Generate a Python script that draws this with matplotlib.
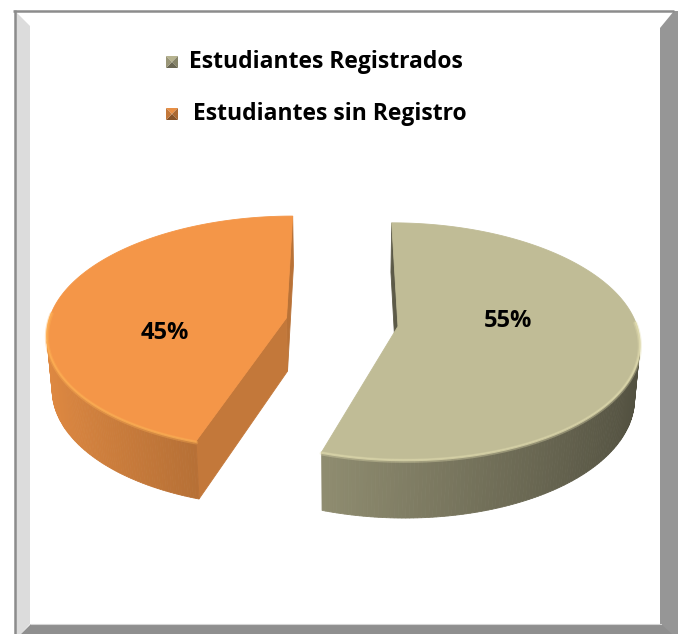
import numpy as np
import matplotlib.pyplot as plt
from matplotlib.patches import Polygon

## Data ##
categories = ["Estudiantes Registrados", "Estudiantes sin Registro"]
shares = [55, 45]
pct_labels = ["55%", "45%"]
top_colors = ["#C0BC96", "#F49648"]

## 3D view (pixel space) ##
phi = np.radians(29)
D = 7.0
F = 1666.
cx0, cy0 = 342., 322.
h = 0.262
explode = 0.237
cam = np.array([0., -D * np.cos(phi), D * np.sin(phi)])


def proj(X, Y, Z):
	depth = D + Y * np.cos(phi) - Z * np.sin(phi)
	sx = cx0 + F * X / depth
	sy = cy0 - F * (Y * np.sin(phi) + Z * np.cos(phi)) / depth
	return sx, sy


def shade(color, f):
	c = np.array(plt.matplotlib.colors.to_rgb(color))
	return tuple(np.clip(c * f, 0, 1))


fig = plt.figure(figsize=(6.8, 6.34), dpi=100)
ax = fig.add_axes([0, 0, 1, 1])
ax.set_xlim(0, 680)
ax.set_ylim(634, 0)
ax.axis("off")

## Frame ##
ax.add_patch(Polygon([(16, 12), (30, 26), (30, 624), (21, 634), (16, 634)], closed=True, fc="#dcdcdc", ec="none"))
ax.add_patch(Polygon([(660, 28), (674, 11), (678, 11), (678, 634), (660, 634)], closed=True, fc="#969696", ec="none"))
ax.add_patch(Polygon([(21, 634), (31, 624), (661, 624), (672, 634)], closed=True, fc="#8f8f8f", ec="none"))
ax.plot([31, 661], [623.5, 623.5], color="#d4d4d4", lw=0.8)
ax.plot([13, 674], [10.5, 10.5], color="#8c8c8c", lw=1.8, solid_capstyle="butt")
ax.plot([14.5, 14.5], [10, 634], color="#8c8c8c", lw=1.8, solid_capstyle="butt")

## Pie slices ##
label_nudge = [(-10, -14), (-6, 24)]
start = 90.
for i, (s, col) in enumerate(zip(shares, top_colors)):
	sweep = 360. * s / sum(shares)
	t0, t1 = np.radians(start), np.radians(start - sweep)
	start -= sweep
	b = 0.5 * (t0 + t1)
	ax0, ay0 = explode * np.cos(b), explode * np.sin(b)
	th = np.linspace(t0, t1, 240)
	X = ax0 + np.cos(th)
	Y = ay0 + np.sin(th)

	faces = []
	# outer wall, one quad per segment
	for k in range(len(th) - 1):
		tm = 0.5 * (th[k] + th[k + 1])
		n = np.array([np.cos(tm), np.sin(tm), 0.])
		P = np.array([ax0 + np.cos(tm), ay0 + np.sin(tm), 0.])
		if n @ (cam - P) <= 0:
			continue
		xs = [X[k], X[k + 1], X[k + 1], X[k]]
		ys = [Y[k], Y[k + 1], Y[k + 1], Y[k]]
		zs = [0, 0, -h, -h]
		sx, sy = proj(np.array(xs), np.array(ys), np.array(zs))
		f = 0.67 - 0.25 * np.cos(tm)
		faces.append((P[1], list(zip(sx, sy)), shade(col, f)))
	# radial cut faces
	for t, nt, f in [(t0, t0 + np.pi / 2, 0.48 if i == 0 else 0.8), (t1, t1 - np.pi / 2, 0.76)]:
		n = np.array([np.cos(nt), np.sin(nt), 0.])
		P = np.array([ax0 + 0.5 * np.cos(t), ay0 + 0.5 * np.sin(t), 0.])
		if n @ (cam - P) <= 0:
			continue
		xs = np.array([ax0, ax0 + np.cos(t), ax0 + np.cos(t), ax0])
		ys = np.array([ay0, ay0 + np.sin(t), ay0 + np.sin(t), ay0])
		zs = np.array([0, 0, -h, -h])
		sx, sy = proj(xs, ys, zs)
		faces.append((P[1], list(zip(sx, sy)), shade(col, f)))

	for _, pts, c in sorted(faces, key=lambda q: -q[0]):
		ax.add_patch(Polygon(pts, closed=True, fc=c, ec=c, lw=0.6))

	# top face
	sx, sy = proj(np.r_[ax0, X], np.r_[ay0, Y], np.zeros(len(X) + 1))
	ax.add_patch(Polygon(list(zip(sx, sy)), closed=True, fc=col, ec=col, lw=0.6))

	# soft rim highlight on the near edge
	vis = np.sin(th) < 0.05
	for z, lw, a in [(-0.006, 3.0, 0.35), (-0.004, 1.3, 0.7)]:
		rx, ry = proj(X[vis], Y[vis], np.full(vis.sum(), z))
		ax.plot(rx, ry, color=shade(col, 1.18), lw=lw, alpha=a, solid_capstyle="round")

	lx, ly = proj(ax0 + 0.5 * np.cos(b), ay0 + 0.5 * np.sin(b), 0.)
	ax.text(lx + label_nudge[i][0], ly + label_nudge[i][1], pct_labels[i], ha="center", va="center",
		fontsize=17, fontweight="bold", family="Open Sans", color="black")

## Legend ##
leg_y = [62, 114]
leg_x = [189, 193]
for j, (name, col) in enumerate(zip(categories, top_colors)):
	x0, y0, w = 166, leg_y[j] - 6, 12
	cxm, cym = x0 + w / 2, y0 + w / 2
	corners = [(x0, y0), (x0 + w, y0), (x0 + w, y0 + w), (x0, y0 + w)]
	for k, f in enumerate([0.95, 0.7, 0.55, 0.8]):
		tri = [corners[k], corners[(k + 1) % 4], (cxm, cym)]
		ax.add_patch(Polygon(tri, closed=True, fc=shade(col, f), ec="none"))
	ax.text(leg_x[j], leg_y[j], name, ha="left", va="center", fontsize=16.5,
		fontweight="bold", family="Open Sans", color="black")

fig.savefig("out.png", dpi=100)
